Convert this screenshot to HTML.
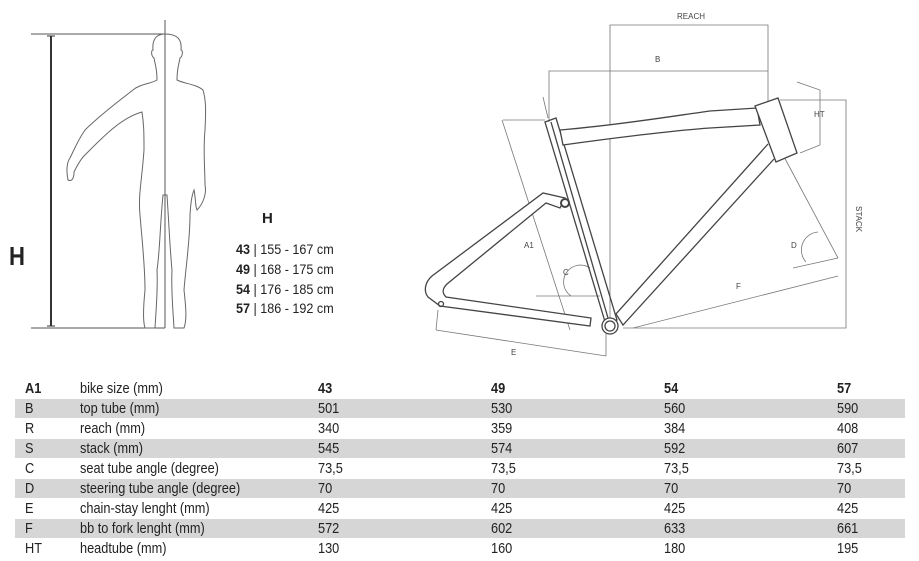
<!DOCTYPE html>
<html><head><meta charset="utf-8"><style>
body{margin:0;width:919px;height:561px;background:#fff;overflow:hidden;position:relative;font-family:"Liberation Sans",sans-serif;color:#222}
.row{position:absolute;left:15px;width:890px;height:19px;font-size:15px;line-height:19px}
.g{background:#d6d6d6}
.row span{position:absolute;top:0;transform:scaleX(0.85);transform-origin:0 50%;white-space:nowrap}
.a{left:10px}.l{left:65px}.c1{left:303px}.c2{left:476px}.c3{left:649px}.c4{left:822px}
.b{font-weight:bold}
svg{position:absolute;left:0;top:0}
</style></head><body>
<svg width="919" height="370" viewBox="0 0 919 370" fill="none" stroke="#555" stroke-width="1">
<line x1="31" y1="34" x2="165" y2="34"/>
<line x1="31" y1="328" x2="165" y2="328"/>
<line x1="165" y1="20" x2="165" y2="328"/>
<line x1="51" y1="36" x2="51" y2="326" stroke="#333" stroke-width="2"/>
<line x1="47" y1="36" x2="55" y2="36" stroke="#333"/>
<line x1="47" y1="326" x2="55" y2="326" stroke="#333"/>
<path d="M165,34 C156,34 152,40 153,50 C151,50 151,56 154,58 C155,64 157,68 157,80 C150,84 140,84 133,90 C120,100 100,115 85,130 C78,140 75,148 70,158 C67,162 66,170 68,180 C72,182 74,178 74,172 C76,168 80,160 84,156 C100,140 120,118 142,112 C144,125 144,135 144,150 C142,180 138,195 140,215 C142,240 145,265 145,290 C143,310 143,322 145,328 L155,328 C156,310 158,290 157,270 C160,250 160,225 163,195 L167,195 C169,225 170,250 172,270 C171,290 173,310 174,328 L184,328 C187,320 186,308 184,290 C186,265 190,240 190,215 C191,200 192,195 194,190 C196,200 195,205 197,210 C202,205 207,195 205,185 C205,170 203,150 205,130 C206,110 206,100 203,90 C196,84 185,84 177,80 C177,68 179,64 180,58 C183,56 183,50 181,50 C182,40 178,34 165,34 Z" stroke="#666"/>
<g stroke="#777" stroke-width="0.8">
<polyline points="610,328 610,25 768,25 768,102"/>
<polyline points="549,122 549,71 768,71"/>
<polyline points="780,100 846,100 846,328 623,328"/>
<line x1="633" y1="328" x2="838" y2="276"/>
<polyline points="797,82 820,90 820,145 800,153"/>
<line x1="782" y1="153" x2="838" y2="258"/>
<line x1="793" y1="268" x2="838" y2="258"/>
<path d="M806,262 A18,18 0 0 1 818,232"/>
<line x1="536" y1="296" x2="600" y2="296"/>
<path d="M571,296 A16,16 0 0 1 590,268"/>
<polyline points="503,120 545,120"/>
<line x1="502" y1="120" x2="570" y2="330"/>
<line x1="438" y1="310" x2="436" y2="330"/>
<line x1="436" y1="330" x2="606" y2="356"/>
<line x1="606" y1="330" x2="606" y2="356"/>
<line x1="543" y1="97" x2="548" y2="118"/>
</g>
<g stroke="#444" stroke-width="1.3">
<polygon points="545,122 556,118 617,320 606,325"/>
<line x1="551" y1="122" x2="608" y2="318"/>
<path d="M560,130 C620,125 680,115 710,111 L757,108 L760,125 L710,128 C680,130 620,137 563,145 Z" fill="#fff"/>
<path d="M755,106 L778,98 L797,153 L776,162 Z" fill="#fff"/>
<path d="M768,144 L616,314 L623,325 L774,159"/>
<path d="M565,198 L543,193 L432,276 C424,283 424,292 428,297 L440,306 L590,326 L591,318 L446,297 C442,293 442,289 447,284 L546,203 L560,208 Z" fill="#fff"/>
<circle cx="565" cy="203" r="4" stroke-width="2" fill="#fff"/>
<circle cx="610" cy="326" r="8" fill="#fff"/>
<circle cx="610" cy="326" r="5"/>
<circle cx="441" cy="304" r="2.5"/>
</g>
<g fill="#444" stroke="none" font-family="Liberation Sans,sans-serif" font-size="8">
<text x="677" y="19">REACH</text>
<text x="655" y="62">B</text>
<text x="814" y="117">HT</text>
<text x="524" y="248">A1</text>
<text x="563" y="275">C</text>
<text x="791" y="248">D</text>
<text x="736" y="289">F</text>
<text x="511" y="355">E</text>
<text transform="translate(856,206) rotate(90)">STACK</text>
</g>
<g fill="#222" stroke="none" font-family="Liberation Sans,sans-serif">
<text x="9" y="265" font-size="26" font-weight="bold" transform="translate(9,0) scale(0.85,1) translate(-9,0)">H</text>
<text x="262" y="223" font-size="15" font-weight="bold">H</text>
<g font-size="14" transform="translate(236,0) scale(0.9,1) translate(-236,0)"><text x="236" y="254"><tspan font-weight="bold">43</tspan> | 155 - 167 cm</text>
<text x="236" y="274"><tspan font-weight="bold">49</tspan> | 168 - 175 cm</text>
<text x="236" y="294"><tspan font-weight="bold">54</tspan> | 176 - 185 cm</text>
<text x="236" y="313"><tspan font-weight="bold">57</tspan> | 186 - 192 cm</text></g>
</g>
</svg>
<div class="row" style="top:379px"><span class="a b">A1</span><span class="l">bike size (mm)</span><span class="c1 b">43</span><span class="c2 b">49</span><span class="c3 b">54</span><span class="c4 b">57</span></div>
<div class="row g" style="top:399px"><span class="a">B</span><span class="l">top tube (mm)</span><span class="c1">501</span><span class="c2">530</span><span class="c3">560</span><span class="c4">590</span></div>
<div class="row" style="top:419px"><span class="a">R</span><span class="l">reach (mm)</span><span class="c1">340</span><span class="c2">359</span><span class="c3">384</span><span class="c4">408</span></div>
<div class="row g" style="top:439px"><span class="a">S</span><span class="l">stack (mm)</span><span class="c1">545</span><span class="c2">574</span><span class="c3">592</span><span class="c4">607</span></div>
<div class="row" style="top:459px"><span class="a">C</span><span class="l">seat tube angle (degree)</span><span class="c1">73,5</span><span class="c2">73,5</span><span class="c3">73,5</span><span class="c4">73,5</span></div>
<div class="row g" style="top:479px"><span class="a">D</span><span class="l">steering tube angle (degree)</span><span class="c1">70</span><span class="c2">70</span><span class="c3">70</span><span class="c4">70</span></div>
<div class="row" style="top:499px"><span class="a">E</span><span class="l">chain-stay lenght (mm)</span><span class="c1">425</span><span class="c2">425</span><span class="c3">425</span><span class="c4">425</span></div>
<div class="row g" style="top:519px"><span class="a">F</span><span class="l">bb to fork lenght (mm)</span><span class="c1">572</span><span class="c2">602</span><span class="c3">633</span><span class="c4">661</span></div>
<div class="row" style="top:539px"><span class="a">HT</span><span class="l">headtube (mm)</span><span class="c1">130</span><span class="c2">160</span><span class="c3">180</span><span class="c4">195</span></div>
</body></html>
